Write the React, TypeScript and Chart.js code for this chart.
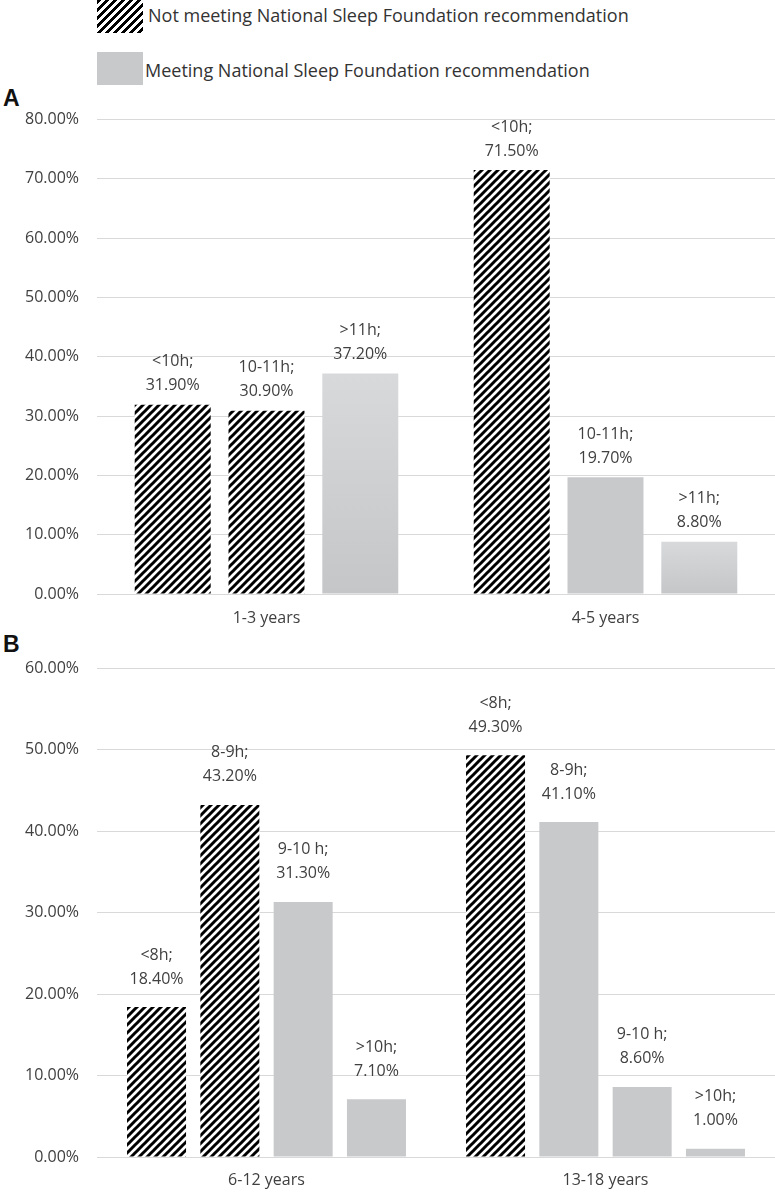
import React, { useEffect, useRef } from 'react';
import { Chart, registerables } from 'chart.js';

Chart.register(...registerables);

const FONT = "'Open Sans', sans-serif";
const TEXT = '#404040';
const GRID = '#d9d9d9';
const GRAY = '#c8c9cb';
const GRAY_LIGHT = '#d8d9db';
const GRAY_DARK = '#c5c6c8';

const legendLabels = [
  'Not meeting National Sleep Foundation recommendation',
  'Meeting National Sleep Foundation recommendation',
];

// Panel A
const groupsA = ['1-3 years', '4-5 years'];
const durationsA = [
  ['<10h', '10-11h', '>11h'],
  ['<10h', '10-11h', '>11h'],
];
const valuesA = [
  [31.9, 30.9, 37.2],
  [71.5, 19.7, 8.8],
];
const meetsA = [
  [false, false, true],
  [false, true, true],
];
const yMaxA = 80;

// Panel B
const groupsB = ['6-12 years', '13-18 years'];
const durationsB = [
  ['<8h', '8-9h', '9-10 h', '>10h'],
  ['<8h', '8-9h', '9-10 h', '>10h'],
];
const valuesB = [
  [18.4, 43.2, 31.3, 7.1],
  [49.3, 41.1, 8.6, 1.0],
];
const meetsB = [
  [false, false, true, true],
  [false, true, true, true],
];
const yMaxB = 60;
const yStep = 10;

function makeHatch(): CanvasPattern | string {
  const c = document.createElement('canvas');
  c.width = 8;
  c.height = 8;
  const x = c.getContext('2d');
  if (!x) return '#000';
  x.fillStyle = '#ffffff';
  x.fillRect(0, 0, 8, 8);
  x.strokeStyle = '#000000';
  x.lineWidth = 3;
  x.beginPath();
  x.moveTo(-4, 4); x.lineTo(4, -4);
  x.moveTo(0, 8); x.lineTo(8, 0);
  x.moveTo(4, 12); x.lineTo(12, 4);
  x.stroke();
  const p = x.createPattern(c, 'repeat');
  return p || '#000';
}

type PanelProps = {
  top: number;
  height: number;
  groups: string[];
  durations: string[][];
  values: number[][];
  meets: boolean[][];
  yMax: number;
  padTop: number;
  xAxisHeight: number;
  xLabelPad: number;
  catPct: number;
  barPct: number;
  labelOffset: number;
  gradientBar: number;
};

function Panel(p: PanelProps) {
  const ref = useRef<HTMLCanvasElement | null>(null);
  useEffect(() => {
    if (!ref.current) return;
    const hatch = makeHatch();
    const nBars = p.values[0].length;
    const datasets = Array.from({ length: nBars }, (_, i) => ({
      label: `bar${i}`,
      data: p.groups.map((_, g) => p.values[g][i]),
      backgroundColor: (ctx: any) => {
        const g = ctx.dataIndex;
        if (g === undefined || g < 0) return GRAY;
        if (!p.meets[g][i]) return hatch;
        if (i !== p.gradientBar) return GRAY;
        const ys = ctx.chart.scales && ctx.chart.scales.y;
        if (!ys) return GRAY;
        const t = ys.getPixelForValue(p.values[g][i]);
        const b = ys.getPixelForValue(0);
        if (!isFinite(t) || !isFinite(b) || b - t < 1) return GRAY;
        const grad = ctx.chart.ctx.createLinearGradient(0, t, 0, b);
        grad.addColorStop(0, GRAY_LIGHT);
        grad.addColorStop(1, GRAY_DARK);
        return grad;
      },
      borderWidth: 0,
      categoryPercentage: p.catPct,
      barPercentage: p.barPct,
    }));
    const labelPlugin = {
      id: 'barLabels',
      afterDatasetsDraw(chart: any) {
        const ctx = chart.ctx;
        ctx.save();
        ctx.font = `16px ${FONT}`;
        ctx.fillStyle = TEXT;
        ctx.textAlign = 'center';
        ctx.textBaseline = 'middle';
        chart.data.datasets.forEach((ds: any, i: number) => {
          const meta = chart.getDatasetMeta(i);
          meta.data.forEach((el: any, g: number) => {
            const v = ds.data[g] as number;
            ctx.fillText(`${p.durations[g][i]};`, el.x, el.y - p.labelOffset - 24);
            ctx.fillText(`${v.toFixed(2)}%`, el.x, el.y - p.labelOffset);
          });
        });
        ctx.restore();
      },
    };
    const chart = new Chart(ref.current, {
      type: 'bar',
      data: { labels: p.groups, datasets: datasets as any },
      options: {
        animation: false,
        responsive: false,
        maintainAspectRatio: false,
        layout: { padding: { top: p.padTop, left: 0, right: 0, bottom: 0 } },
        plugins: { legend: { display: false }, tooltip: { enabled: false } },
        scales: {
          x: {
            grid: { display: false, drawTicks: false },
            border: { display: false },
            ticks: { color: TEXT, font: { family: FONT, size: 16 }, padding: p.xLabelPad },
            afterFit: (s: any) => { s.height = p.xAxisHeight; },
          },
          y: {
            min: 0,
            max: p.yMax,
            grid: { color: GRID, lineWidth: 1, drawTicks: false },
            border: { display: false },
            ticks: {
              stepSize: yStep,
              color: TEXT,
              font: { family: FONT, size: 16 },
              padding: 18,
              callback: (v: any) => `${Number(v).toFixed(2)}%`,
            },
            afterFit: (s: any) => { s.width = 97; },
          },
        },
      },
      plugins: [labelPlugin],
    });
    return () => chart.destroy();
  }, []);
  return (
    <canvas
      ref={ref}
      width={775}
      height={p.height}
      style={{ position: 'absolute', left: 0, top: p.top, width: 775, height: p.height }}
    />
  );
}

export default function App() {
  const hatchCss = 'repeating-linear-gradient(135deg, #000 0px, #000 2.9px, #fff 2.9px, #fff 5.66px)';
  return (
    <div style={{ position: 'absolute', left: 0, top: 0, width: 775, height: 1201, background: '#fff', overflow: 'hidden' }}>
      <div style={{ position: 'absolute', left: 97, top: 0, width: 46, height: 33, background: hatchCss }} />
      <div style={{ position: 'absolute', left: 148, top: 3, height: 24, lineHeight: '24px', fontFamily: FONT, fontSize: 18, color: '#333', whiteSpace: 'nowrap' }}>
        {legendLabels[0]}
      </div>
      <div style={{ position: 'absolute', left: 97, top: 52, width: 46, height: 33, background: GRAY }} />
      <div style={{ position: 'absolute', left: 145, top: 58, height: 24, lineHeight: '24px', fontFamily: FONT, fontSize: 18, color: '#333', whiteSpace: 'nowrap' }}>
        {legendLabels[1]}
      </div>
      <div style={{ position: 'absolute', left: 3, top: 87, lineHeight: 1, fontFamily: "'Liberation Sans', Arial, sans-serif", fontWeight: 'bold', fontSize: 23, color: '#111' }}>A</div>
      <div style={{ position: 'absolute', left: 3, top: 633, lineHeight: 1, fontFamily: "'Liberation Sans', Arial, sans-serif", fontWeight: 'bold', fontSize: 23, color: '#111' }}>B</div>
      <Panel
        top={92}
        height={548}
        groups={groupsA}
        durations={durationsA}
        values={valuesA}
        meets={meetsA}
        yMax={yMaxA}
        padTop={0}
        xAxisHeight={46}
        xLabelPad={15}
        catPct={0.83}
        barPct={0.81}
        labelOffset={19}
        gradientBar={2}
      />
      <Panel
        top={640}
        height={561}
        groups={groupsB}
        durations={durationsB}
        values={valuesB}
        meets={meetsB}
        yMax={yMaxB}
        padTop={28}
        xAxisHeight={44}
        xLabelPad={14}
        catPct={0.865}
        barPct={0.805}
        labelOffset={28}
        gradientBar={-1}
      />
    </div>
  );
}
